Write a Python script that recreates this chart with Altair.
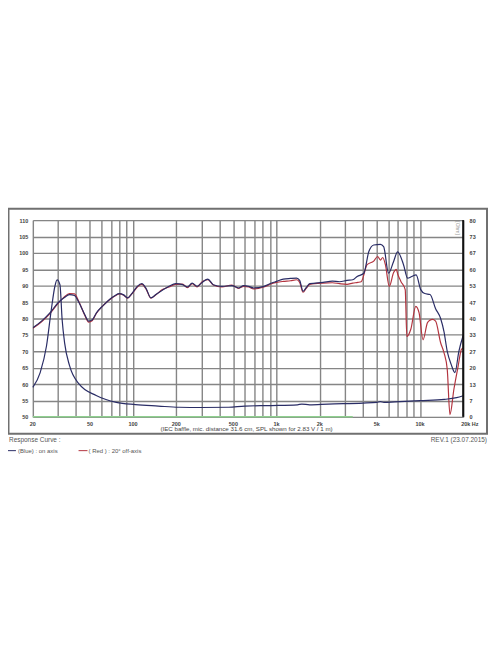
import altair as alt
import pandas as pd

# ---------------- data ----------------
freq_on = [20, 23, 26.3, 30, 33, 36, 39, 42, 46, 49, 52, 55.5, 62, 68.5, 75, 80, 86, 91.5, 98,
           107, 115, 123, 133, 145, 160, 178, 198, 221, 239, 258, 279, 303, 332, 362, 416, 488,
           545, 589, 640, 693, 816, 925, 1000, 1114, 1250, 1380, 1450, 1530, 1610, 1706, 2110,
           2450, 2750, 3100, 3400, 3650, 4060, 4400, 4760, 5300, 5580, 6040, 6550, 6980, 7680, 8190, 8770,
           9400, 10120, 10800, 11750, 12850, 13930, 14700, 15490, 16500, 17530, 18670, 20000]
spl_on = [77.2, 79.2, 81.7, 84.8, 86.3, 87.3, 87.0, 84.8, 81.2, 79.2, 79.6, 81.7, 84.0, 85.8, 87.0,
          87.6, 87.2, 86.3, 87.6, 89.8, 90.6, 89.2, 86.3, 87.4, 88.6, 89.8, 90.6, 90.3, 89.6, 90.8,
          89.8, 91.0, 92.0, 90.3, 89.8, 90.0, 89.3, 90.0, 89.8, 89.3, 89.8, 90.8, 91.3, 92.0, 92.2,
          92.3, 91.6, 88.3, 89.4, 90.6, 91.0, 91.4, 91.2, 91.6, 91.8, 92.8, 93.8, 100.4, 102.4, 102.6, 101.9,
          93.8, 97.4, 100.3, 96.4, 92.3, 92.8, 93.3, 88.8, 87.6, 87.3, 83.0, 80.0, 76.0, 70.0,
          66.0, 63.5, 70.0, 74.8]

freq_off = [20, 23, 26.3, 30, 33, 36, 39, 42, 46, 49, 52, 55.5, 62, 68.5, 75, 80, 86, 91.5, 98,
            107, 115, 123, 133, 145, 160, 178, 198, 221, 239, 258, 279, 303, 332, 362, 416, 488,
            545, 589, 640, 693, 816, 925, 1000, 1114, 1250, 1380, 1450, 1530, 1610, 1706, 2110,
            2450, 2750, 3100, 3400, 3690, 3890, 4280, 4760, 5070, 5300, 5500, 5740, 6110, 6550, 6830, 7000,
            7360, 7890, 8100, 8630, 9350, 9860, 10500, 11270, 11750, 12200, 12850, 13930, 14700,
            15490, 16180, 17250, 18460, 19450, 20000]
spl_off = [77.0, 79.0, 81.5, 84.6, 86.5, 87.6, 87.5, 85.0, 81.0, 78.9, 79.4, 81.6, 84.0, 85.7, 86.9,
           87.5, 87.1, 86.2, 87.5, 89.6, 90.4, 89.0, 86.2, 87.3, 88.8, 89.6, 90.4, 90.5, 89.4, 90.6,
           89.6, 91.2, 91.8, 90.2, 89.6, 90.2, 89.2, 89.8, 89.6, 89.0, 89.6, 90.6, 91.0, 91.3, 91.5,
           91.8, 91.0, 88.0, 89.2, 90.4, 90.8, 90.9, 90.6, 90.4, 90.8, 91.0, 91.2, 96.4, 97.5, 98.9, 97.8, 98.6,
           96.4, 89.8, 94.0, 95.0, 93.5, 91.3, 88.8, 74.5, 76.7, 83.7, 81.7, 73.5, 78.7, 79.5, 79.7,
           79.2, 72.6, 69.6, 64.5, 50.7, 58.5, 65.5, 70.6, 71.0]

freq_imp = [20, 22.5, 24.9, 26.9, 28.5, 29.5, 30.9, 32, 33.3, 36.1, 42.1, 55.3, 76.4, 104, 150,
            209, 300, 464, 600, 920, 1400, 1500, 1700, 2285, 4000, 5000, 5300, 5600, 6660, 10000,
            14770, 18000, 20000]
imp_ohm = [12.0, 18.0, 28.8, 43.6, 53.1, 55.7, 53.7, 39.6, 30.1, 20.7, 13.3, 8.7, 5.9, 5.0, 4.4,
           3.9, 3.8, 3.9, 4.4, 4.6, 4.9, 5.2, 4.9, 5.2, 5.6, 5.9, 6.2, 5.9, 6.1, 6.6, 7.1, 7.8, 8.6]

x_grid = [20, 30, 40, 50, 60, 70, 80, 90, 100, 200, 300, 400, 500, 600, 700, 800, 900,
          1000, 2000, 3000, 4000, 5000, 6000, 7000, 8000, 9000, 10000, 20000]
x_label_freqs = [20, 50, 100, 200, 500, 1000, 2000, 5000, 10000]
x_label_texts = ["20", "50", "100", "200", "500", "1k", "2k", "5k", "10k"]
last_label_freq = [20000]
last_label_text = ["20k Hz"]
db_ticks = list(range(50, 111, 5))
ohm_ticks = [i * 80 / 12 for i in range(13)]
green_span = [20, 3400]

# ---------------- styling ----------------
W, H = 433, 198
NAVY = "#2a2d66"
RED = "#b3343f"
GRID = "#858585"
FONT = "Liberation Sans"

fr = pd.concat([
    pd.DataFrame({"f": freq_off, "db": spl_off, "s": "off"}),
    pd.DataFrame({"f": freq_on, "db": spl_on, "s": "on"}),
])
imp = pd.DataFrame({"f": freq_imp, "ohm": imp_ohm})

xscale = alt.Scale(type="log", domain=[20, 20000], nice=False)
xaxis = alt.Axis(values=x_grid, grid=True, gridColor=GRID, gridWidth=1.4, gridOpacity=1,
                 labels=False, ticks=False, domain=False, title=None)
yscale = alt.Scale(domain=[50, 110], nice=False, zero=False)
yaxis = alt.Axis(values=db_ticks, grid=True, gridColor=GRID, gridWidth=1.4, gridOpacity=1,
                 ticks=False, domain=False, title=None, labelFontSize=5.5, labelFontWeight="bold",
                 labelColor="#444", labelPadding=5, labelFont=FONT)

one = pd.DataFrame({"k": [0]})

frame = alt.Chart(one).mark_rect(fillOpacity=0, stroke="#707070", strokeWidth=2).encode(
    x=alt.value(-24.5), x2=alt.value(457), y=alt.value(-11.5), y2=alt.value(215))

fr_lines = alt.Chart(fr).mark_line(strokeWidth=1.2, interpolate="monotone", clip=True).encode(
    x=alt.X("f:Q", scale=xscale, axis=xaxis),
    y=alt.Y("db:Q", scale=yscale, axis=yaxis),
    color=alt.Color("s:N", scale=alt.Scale(domain=["off", "on"], range=[RED, NAVY]), legend=None),
    order=alt.Order("f:Q"),
    detail="s:N",
)

imp_line = alt.Chart(imp).mark_line(strokeWidth=1.2, color=NAVY, interpolate="monotone").encode(
    x=alt.X("f:Q", scale=xscale),
    y=alt.Y("ohm:Q", scale=alt.Scale(domain=[0, 80], nice=False),
            axis=alt.Axis(orient="right", values=ohm_ticks, format=".0f", grid=False, ticks=False,
                          domain=False, title=None, labelFontSize=5.5, labelFontWeight="bold",
                          labelColor="#444", labelPadding=6, labelFont=FONT)),
)

green = alt.Chart(pd.DataFrame({"a": [green_span[0]], "b": [green_span[1]]})).mark_rule(
    color="#8fd08f", strokeWidth=1.5).encode(
    x=alt.X("a:Q", scale=xscale), x2="b:Q", y=alt.value(H))

right_edge = alt.Chart(pd.DataFrame({"a": last_label_freq})).mark_rule(
    color="#111", strokeWidth=2).encode(
    x=alt.X("a:Q", scale=xscale), y=alt.value(0), y2=alt.value(H))

xlab = alt.Chart(pd.DataFrame({"f": x_label_freqs, "t": x_label_texts})).mark_text(
    fontSize=5.5, fontWeight="bold", color="#444", font=FONT, baseline="middle", align="center").encode(
    x=alt.X("f:Q", scale=xscale), y=alt.value(H + 7), text="t:N")

xlab_last = alt.Chart(pd.DataFrame({"f": last_label_freq, "t": last_label_text})).mark_text(
    fontSize=5.5, fontWeight="bold", color="#444", font=FONT, baseline="middle", align="left", dx=-2).encode(
    x=alt.X("f:Q", scale=xscale), y=alt.value(H + 7), text="t:N")

def label(txt, x, y, size=6.3, align="left", color="#555", angle=0):
    kw = dict(fontSize=size, color=color, font=FONT, align=align, baseline="middle")
    if angle:
        kw["angle"] = angle
    return alt.Chart(pd.DataFrame({"t": [txt]})).mark_text(**kw).encode(
        x=alt.value(x), y=alt.value(y), text="t:N")

caption = label("(IEC baffle, mic. distance 31.6 cm, SPL shown for 2.83 V / 1 m)", 215, 210.5,
                size=6.2, align="center", color="#444")
resp = label("Response Curve :", -24, 221, size=6.5)
rev = label("REV.1 (23.07.2015)", 457, 221.5, size=6.5, align="right")
leg_blue_t = label("(Blue)  : on axis", -15, 232, size=6)
leg_red_t = label("( Red ) : 20° off-axis", 56, 232, size=6)
ohm_t = label("[Ohm]", 428, 8, size=5, color="#999", align="center", angle=90)

leg_blue_l = alt.Chart(one).mark_rule(color=NAVY, strokeWidth=1).encode(
    x=alt.value(-26), x2=alt.value(-17), y=alt.value(232))
leg_red_l = alt.Chart(one).mark_rule(color=RED, strokeWidth=1).encode(
    x=alt.value(46), x2=alt.value(55), y=alt.value(232))

chart = alt.layer(
    frame, fr_lines, imp_line, green, right_edge, xlab, xlab_last, caption, resp, rev,
    leg_blue_l, leg_blue_t, leg_red_l, leg_red_t, ohm_t
).resolve_scale(y="independent").properties(
    width=W, height=H,
    autosize=alt.AutoSizeParams(type="none"),
    padding={"left": 25, "top": 212, "right": 25, "bottom": 42},
).configure_view(stroke=None).configure(background="white")

chart.save("out.html", embed_options={"renderer": "svg", "actions": False})
